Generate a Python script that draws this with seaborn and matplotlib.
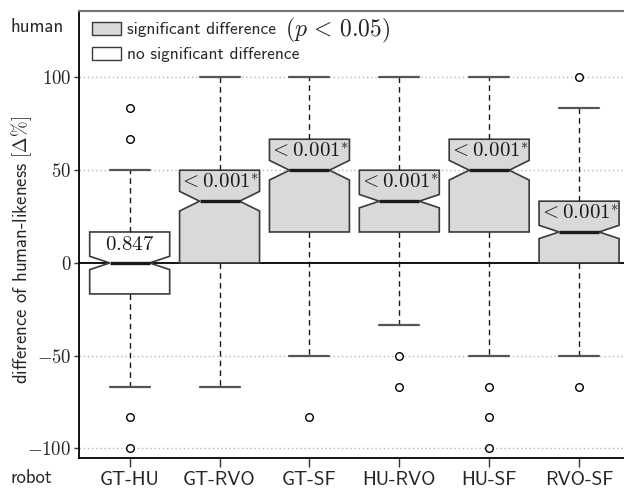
import matplotlib
matplotlib.use("Agg")
import matplotlib.pyplot as plt
from matplotlib.patches import Patch
import numpy as np
import pandas as pd
import seaborn as sns

# ---- data -------------------------------------------------------------
pairs = ["GT-HU", "GT-RVO", "GT-SF", "HU-RVO", "HU-SF", "RVO-SF"]
medians = [0.0, 33.3, 50.0, 33.3, 50.0, 16.7]
q1s = [-16.7, 0.0, 16.7, 16.7, 16.7, 0.0]
q3s = [16.7, 50.0, 66.7, 50.0, 66.7, 33.3]
whisker_low = [-66.7, -66.7, -50.0, -33.3, -50.0, -50.0]
whisker_high = [50.0, 100.0, 100.0, 100.0, 100.0, 83.3]
notch_half = [3.6, 5.3, 5.3, 3.6, 5.3, 3.6]
outliers = [
    [83.3, 66.7, -83.3, -100.0],
    [],
    [-83.3],
    [-50.0, -66.7],
    [-66.7, -83.3, -100.0],
    [100.0, -66.7],
]
significant = [False, True, True, True, True, True]
p_labels = [r"$0.847$", r"$<0.001^{*}$", r"$<0.001^{*}$",
            r"$<0.001^{*}$", r"$<0.001^{*}$", r"$<0.001^{*}$"]
y_ticks = [-100, -50, 0, 50, 100]
y_tick_labels = [r"$-100$", r"$-50$", r"$0$", r"$50$", r"$100$"]

# ---- style ------------------------------------------------------------
sns.set_theme(style="white")
plt.rcParams["font.family"] = ["cmss10", "DejaVu Sans"]
plt.rcParams["mathtext.fontset"] = "cm"
plt.rcParams["axes.unicode_minus"] = True

GREY_FILL = "#d9d9d9"
EDGE = "#3a3a3a"

W, H = 624, 490
fig = plt.figure(figsize=(W / 100, H / 100), dpi=100)
ax = fig.add_axes([79 / W, 32.3 / H, 545 / W, 447 / H])

positions = np.arange(1, len(pairs) + 1)

stats = []
for i, name in enumerate(pairs):
    stats.append(dict(
        label=name,
        med=medians[i],
        q1=q1s[i],
        q3=q3s[i],
        whislo=whisker_low[i],
        whishi=whisker_high[i],
        cilo=medians[i] - notch_half[i],
        cihi=medians[i] + notch_half[i],
        fliers=[],
    ))

# reference lines
for yt in y_ticks:
    if yt != 0:
        ax.axhline(yt, color="#b5b5b5", lw=1.0, ls=(0, (1, 2)), zorder=0)
ax.axhline(0, color="black", lw=1.3, zorder=1)

bp = ax.bxp(
    stats, positions=positions, widths=0.89, shownotches=True,
    patch_artist=True, showfliers=False,
    boxprops=dict(edgecolor=EDGE, linewidth=1.2),
    medianprops=dict(color="#1a1a1a", linewidth=2.4),
    whiskerprops=dict(color="#1a1a1a", linewidth=1.0, linestyle=(0, (4, 3))),
    capprops=dict(color="#555555", linewidth=1.6),
    manage_ticks=False,
)
for patch, sig in zip(bp["boxes"], significant):
    patch.set_facecolor(GREY_FILL if sig else "white")
    patch.set_zorder(2)
for ln in bp["medians"]:
    ln.set_zorder(3)

# outliers as open circles
flier_df = pd.DataFrame(
    [(positions[i], v) for i, vals in enumerate(outliers) for v in vals],
    columns=["pos", "value"],
)
sns.scatterplot(data=flier_df, x="pos", y="value", ax=ax, s=30,
                facecolor="white", edgecolor="black", linewidth=1.0,
                zorder=4, legend=False)

# p-value labels inside the upper part of each box
for i, lab in enumerate(p_labels):
    ax.text(positions[i], q3s[i] - 6.5, lab, ha="center", va="center",
            fontsize=15, color="#1a1a1a", zorder=5)

# axes limits, ticks, spines
ax.set_xlim(0.436, 6.5)
ax.set_ylim(-105, 136)
ax.set_xticks(positions)
ax.set_xticklabels(pairs, fontsize=14)
ax.set_yticks(y_ticks)
ax.set_yticklabels(y_tick_labels, fontsize=13.5)
ax.set_xlabel("")
ax.set_ylabel("")
ax.tick_params(axis="x", direction="out", length=6.5, width=1.0,
               color="#333333", pad=3, bottom=True)
ax.tick_params(axis="y", direction="out", length=3.5, width=1.0,
               color="#333333", pad=2, left=True)
for side in ["left", "bottom"]:
    ax.spines[side].set_color("black")
    ax.spines[side].set_linewidth(1.3)
ax.spines["top"].set_color("#777777")
ax.spines["top"].set_linewidth(1.6)
ax.spines["right"].set_visible(False)

# side annotations
fig.text(10 / W, 1 - 27 / H, "human", fontsize=13.5, ha="left", va="center")
fig.text(10 / W, 1 - 478 / H, "robot", fontsize=13.5, ha="left", va="center")
fig.text(22 / W, 1 - 250 / H, r"difference of human-likeness $[\Delta\%]$",
         fontsize=13.5, rotation=90, ha="center", va="center")

# legend
handles = [
    Patch(facecolor=GREY_FILL, edgecolor=EDGE, linewidth=1.0,
          label="significant difference"),
    Patch(facecolor="white", edgecolor=EDGE, linewidth=1.0,
          label="no significant difference"),
]
leg = fig.legend(handles=handles, loc="upper left",
                 bbox_to_anchor=(92 / W, 1 - 22 / H),
                 bbox_transform=fig.transFigure,
                 frameon=False, fontsize=12.5, borderpad=0, borderaxespad=0,
                 handlelength=1.65, handleheight=0.75, handletextpad=0.35,
                 labelspacing=0.55)

# significance threshold set in larger math type after the first entry
fig.canvas.draw()
bb = leg.get_texts()[0].get_window_extent()
fig.text((bb.x1 + 9) / W, (bb.y0 + bb.y1) / 2 / H - 0.5 / H,
         r"$(p\,<\,0.05)$", fontsize=17, ha="left", va="center")

fig.savefig("out.png", dpi=100)
